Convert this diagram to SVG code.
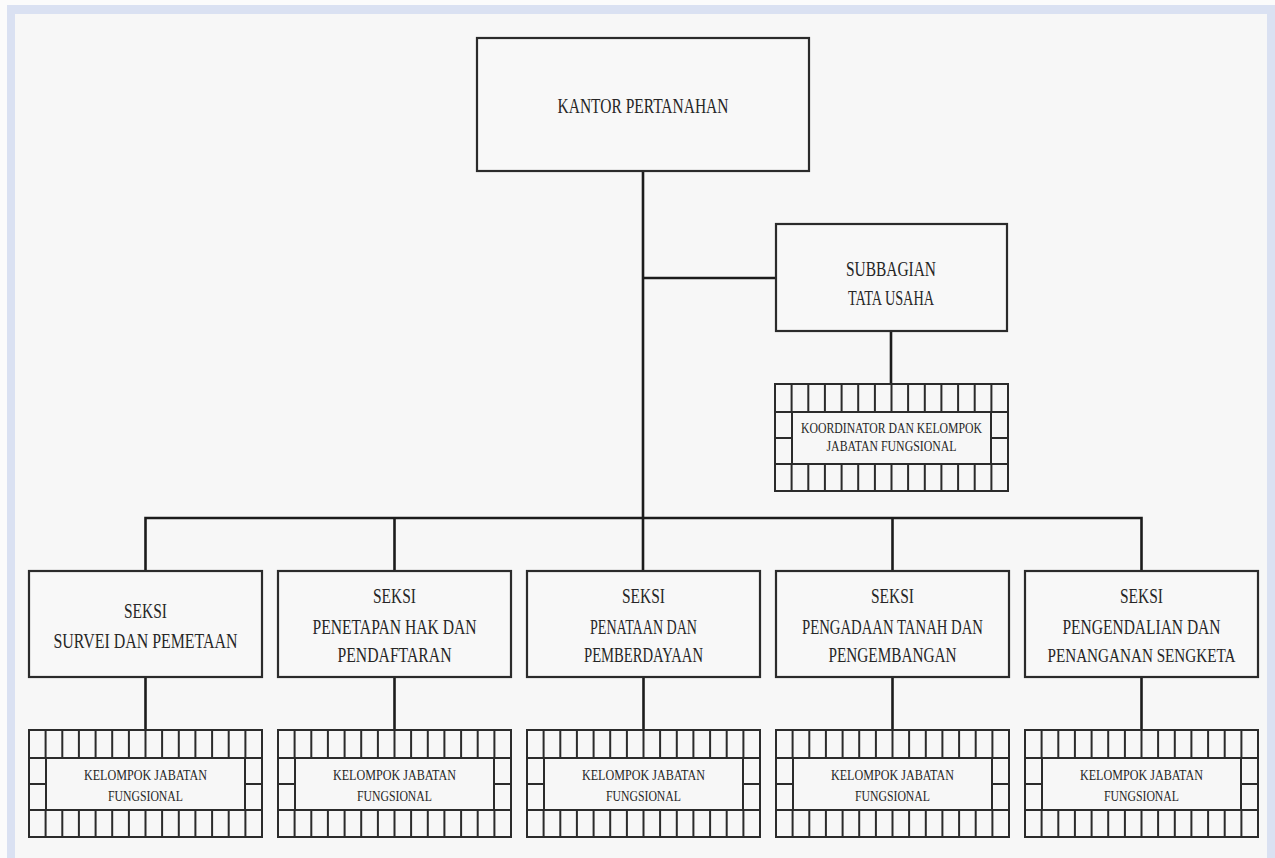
<svg xmlns="http://www.w3.org/2000/svg" xmlns:xlink="http://www.w3.org/1999/xlink" width="1275" height="858" viewBox="0 0 1275 858">
<style>
.box{fill:#f8f8f8;stroke:#2b2b2b;stroke-width:2.2}
.grid{fill:none;stroke:#2b2b2b;stroke-width:2}
.conn{fill:none;stroke:#1c1c1c;stroke-width:2.6}
.t{font-family:"Liberation Serif","DejaVu Serif",serif;fill:#262626;text-anchor:middle;font-size:21px}
.tk{font-size:22px}
.ts{font-size:14px}
.tn{font-size:19px}
</style>
<defs>
<g id="gridbox">
<rect x="0" y="0" width="233" height="107" fill="#f8f8f8" class="grid"/>
<path class="grid" d="M0 28H233M0 80H233M17 28V80M216 28V80M0 54H17M216 54H233
M16.6 0V28M33.3 0V28M49.9 0V28M66.6 0V28M83.2 0V28M99.9 0V28M116.5 0V28M133.1 0V28M149.8 0V28M166.4 0V28M183.1 0V28M199.7 0V28M216.4 0V28
M16.6 80V107M33.3 80V107M49.9 80V107M66.6 80V107M83.2 80V107M99.9 80V107M116.5 80V107M133.1 80V107M149.8 80V107M166.4 80V107M183.1 80V107M199.7 80V107M216.4 80V107"/>
</g>
</defs>
<rect x="0" y="0" width="1275" height="858" fill="#fbfbfb"/>
<rect x="7" y="5" width="1268" height="853" fill="#dae1f2"/>
<rect x="15" y="14" width="1252" height="844" fill="#f7f7f7"/>

<g id="connectors">
<path class="conn" d="M643 171V571"/>
<path class="conn" d="M643 278H776"/>
<path class="conn" d="M891 331V384"/>
<path class="conn" d="M145.5 571V518H1141.5V571"/>
<path class="conn" d="M394.5 518V571M892.5 518V571"/>
<path class="conn" d="M145.5 677V730M394.5 677V730M643.5 677V730M892.5 677V730M1141.5 677V730"/>
</g>

<g id="kantor">
<rect class="box" x="477" y="38" width="332" height="133"/>
<text class="t tk" x="643" y="113" textLength="171" lengthAdjust="spacingAndGlyphs">KANTOR PERTANAHAN</text>
</g>

<g id="subbagian">
<rect class="box" x="776" y="224" width="231" height="107"/>
<text class="t" x="891" y="276" textLength="90" lengthAdjust="spacingAndGlyphs">SUBBAGIAN</text>
<text class="t" x="891" y="305" textLength="86" lengthAdjust="spacingAndGlyphs">TATA USAHA</text>
</g>

<g id="koordinator">
<use xlink:href="#gridbox" x="775" y="384"/>
<text class="t ts" x="891.5" y="433" textLength="181" lengthAdjust="spacingAndGlyphs">KOORDINATOR DAN KELOMPOK</text>
<text class="t ts" x="891.5" y="451" textLength="130" lengthAdjust="spacingAndGlyphs">JABATAN FUNGSIONAL</text>
</g>

<g id="seksi1">
<rect class="box" x="29" y="571" width="233" height="106"/>
<text class="t" x="145.5" y="618" textLength="43" lengthAdjust="spacingAndGlyphs">SEKSI</text>
<text class="t" x="145.5" y="648" textLength="184" lengthAdjust="spacingAndGlyphs">SURVEI DAN PEMETAAN</text>
</g>
<g id="seksi2">
<rect class="box" x="278" y="571" width="233" height="106"/>
<text class="t" x="394.5" y="603" textLength="43" lengthAdjust="spacingAndGlyphs">SEKSI</text>
<text class="t" x="394.5" y="634" textLength="164" lengthAdjust="spacingAndGlyphs">PENETAPAN HAK DAN</text>
<text class="t" x="394.5" y="662" textLength="114" lengthAdjust="spacingAndGlyphs">PENDAFTARAN</text>
</g>
<g id="seksi3">
<rect class="box" x="527" y="571" width="233" height="106"/>
<text class="t" x="643.5" y="603" textLength="43" lengthAdjust="spacingAndGlyphs">SEKSI</text>
<text class="t" x="643.5" y="634" textLength="107" lengthAdjust="spacingAndGlyphs">PENATAAN DAN</text>
<text class="t" x="643.5" y="662" textLength="119" lengthAdjust="spacingAndGlyphs">PEMBERDAYAAN</text>
</g>
<g id="seksi4">
<rect class="box" x="776" y="571" width="233" height="106"/>
<text class="t" x="892.5" y="603" textLength="43" lengthAdjust="spacingAndGlyphs">SEKSI</text>
<text class="t" x="892.5" y="634" textLength="181" lengthAdjust="spacingAndGlyphs">PENGADAAN TANAH DAN</text>
<text class="t" x="892.5" y="662" textLength="128" lengthAdjust="spacingAndGlyphs">PENGEMBANGAN</text>
</g>
<g id="seksi5">
<rect class="box" x="1025" y="571" width="233" height="106"/>
<text class="t" x="1141.5" y="603" textLength="43" lengthAdjust="spacingAndGlyphs">SEKSI</text>
<text class="t" x="1141.5" y="634" textLength="158" lengthAdjust="spacingAndGlyphs">PENGENDALIAN DAN</text>
<text class="t tn" x="1141.5" y="662" textLength="188" lengthAdjust="spacingAndGlyphs">PENANGANAN SENGKETA</text>
</g>

<g id="kelompok1">
<use xlink:href="#gridbox" x="29" y="730"/>
<text class="t ts" x="145.5" y="780" textLength="123" lengthAdjust="spacingAndGlyphs">KELOMPOK JABATAN</text>
<text class="t ts" x="145.5" y="801" textLength="75" lengthAdjust="spacingAndGlyphs">FUNGSIONAL</text>
</g>
<g id="kelompok2">
<use xlink:href="#gridbox" x="278" y="730"/>
<text class="t ts" x="394.5" y="780" textLength="123" lengthAdjust="spacingAndGlyphs">KELOMPOK JABATAN</text>
<text class="t ts" x="394.5" y="801" textLength="75" lengthAdjust="spacingAndGlyphs">FUNGSIONAL</text>
</g>
<g id="kelompok3">
<use xlink:href="#gridbox" x="527" y="730"/>
<text class="t ts" x="643.5" y="780" textLength="123" lengthAdjust="spacingAndGlyphs">KELOMPOK JABATAN</text>
<text class="t ts" x="643.5" y="801" textLength="75" lengthAdjust="spacingAndGlyphs">FUNGSIONAL</text>
</g>
<g id="kelompok4">
<use xlink:href="#gridbox" x="776" y="730"/>
<text class="t ts" x="892.5" y="780" textLength="123" lengthAdjust="spacingAndGlyphs">KELOMPOK JABATAN</text>
<text class="t ts" x="892.5" y="801" textLength="75" lengthAdjust="spacingAndGlyphs">FUNGSIONAL</text>
</g>
<g id="kelompok5">
<use xlink:href="#gridbox" x="1025" y="730"/>
<text class="t ts" x="1141.5" y="780" textLength="123" lengthAdjust="spacingAndGlyphs">KELOMPOK JABATAN</text>
<text class="t ts" x="1141.5" y="801" textLength="75" lengthAdjust="spacingAndGlyphs">FUNGSIONAL</text>
</g>
</svg>
